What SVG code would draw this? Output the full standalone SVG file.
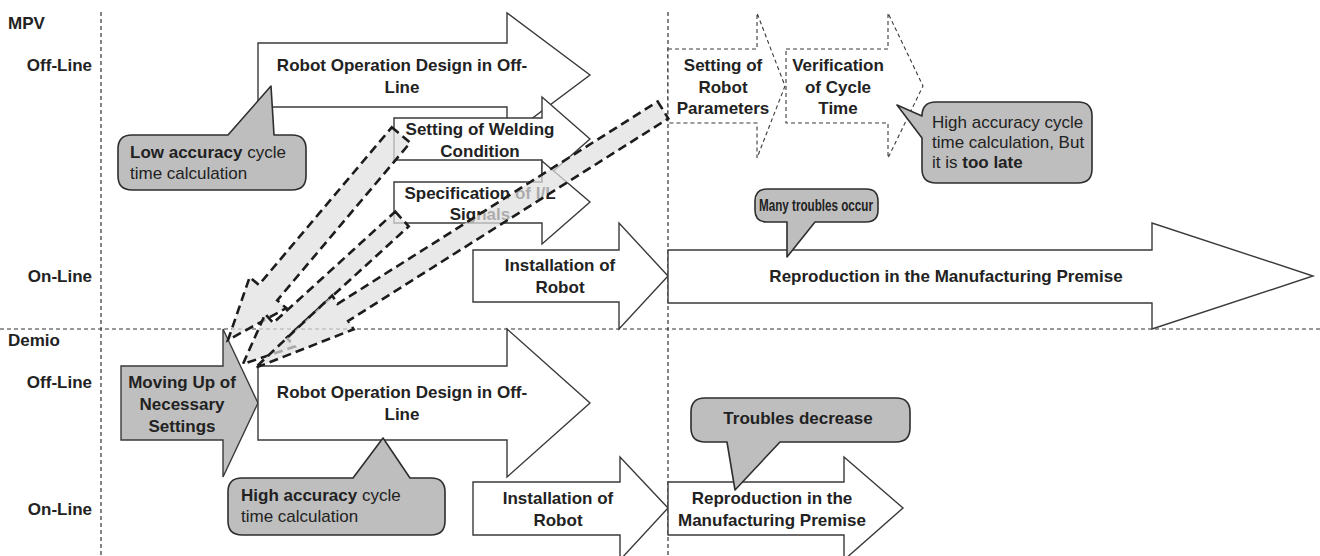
<svg xmlns="http://www.w3.org/2000/svg" width="1320" height="556" viewBox="0 0 1320 556">
  <style>
    .bg { fill: #ffffff; }
    .grid { stroke: #333; stroke-width: 1.2; stroke-dasharray: 4 3; fill: none; }
    .blk { fill: #ffffff; stroke: #3a3a3a; stroke-width: 1.4; stroke-linejoin: miter; }
    .blk-dash { fill: #ffffff; stroke: #3a3a3a; stroke-width: 1.1; stroke-dasharray: 4 3; }
    .blk-grey { fill: #bfbfbf; stroke: #3a3a3a; stroke-width: 1.4; }
    .callout { fill: #bebebe; stroke: #2e2e2e; stroke-width: 1.6; stroke-linejoin: round; }
    .move { fill: #e0e0e0; fill-opacity: 0.72; stroke: #1c1c1c; stroke-width: 2.6; stroke-dasharray: 9 5; stroke-linejoin: miter; }
    .lbl { font-family: "Liberation Sans", Arial, sans-serif; font-size: 17px; font-weight: bold; fill: #222; }
    .t { font-family: "Liberation Sans", Arial, sans-serif; font-size: 17px; font-weight: bold; fill: #222; text-anchor: middle; }
    .c { font-family: "Liberation Sans", Arial, sans-serif; font-size: 17px; fill: #222; }
    .b { font-weight: bold; }
  </style>

  <rect class="bg" x="0" y="0" width="1320" height="556"/>

  <!-- lane grid -->
  <g id="grid">
    <line class="grid" x1="101" y1="12" x2="101" y2="556"/>
    <line class="grid" x1="668" y1="12" x2="668" y2="556"/>
    <line class="grid" x1="0" y1="329" x2="1320" y2="329"/>
  </g>

  <!-- row labels -->
  <g id="labels">
    <text class="lbl" x="8" y="29">MPV</text>
    <text class="lbl" x="92" y="71" text-anchor="end">Off-Line</text>
    <text class="lbl" x="92" y="282" text-anchor="end">On-Line</text>
    <text class="lbl" x="8" y="346">Demio</text>
    <text class="lbl" x="92" y="388" text-anchor="end">Off-Line</text>
    <text class="lbl" x="92" y="515" text-anchor="end">On-Line</text>
  </g>

  <!-- MPV process -->
  <g id="mpv-robot-op">
    <path class="blk" d="M258,43 H507 V13 L590,75 L507,137 V107 H258 Z"/>
    <text class="t" x="402" y="71">Robot Operation Design in Off-</text>
    <text class="t" x="402" y="93">Line</text>
  </g>
  <g id="mpv-welding">
    <path class="blk" d="M394,118 H542 V97 L590,139 L542,181 V160 H394 Z"/>
    <text class="t" x="480" y="135">Setting of Welding</text>
    <text class="t" x="480" y="157">Condition</text>
  </g>
  <g id="mpv-io-signals">
    <path class="blk" d="M394,182 H542 V161 L590,202 L542,244 V223 H394 Z"/>
    <text class="t" x="480" y="199">Specification of I/L</text>
    <text class="t" x="480" y="220">Signals</text>
  </g>
  <g id="mpv-install">
    <path class="blk" d="M473,250 H619 V223 L668,276 L619,329 V302 H473 Z"/>
    <text class="t" x="560" y="271">Installation of</text>
    <text class="t" x="560" y="293">Robot</text>
  </g>
  <g id="mpv-reproduction">
    <path class="blk" d="M668,250 H1152 V223 L1313,276 L1152,329 V303 H668 Z"/>
    <text class="t" x="946" y="282">Reproduction in the Manufacturing Premise</text>
  </g>
  <g id="mpv-robot-params">
    <path class="blk-dash" d="M668,49 H757 V13 L785,86 L757,158 V123 H668 Z"/>
    <text class="t" x="723" y="71">Setting of</text>
    <text class="t" x="723" y="93">Robot</text>
    <text class="t" x="723" y="114">Parameters</text>
  </g>
  <g id="mpv-verification">
    <path class="blk-dash" d="M786,49 H888 V13 L923,86 L888,158 V123 H786 Z"/>
    <text class="t" x="838" y="71">Verification</text>
    <text class="t" x="838" y="93">of Cycle</text>
    <text class="t" x="838" y="114">Time</text>
  </g>

  <!-- Demio process -->
  <g id="demio-moving-up">
    <path class="blk-grey" d="M121,366 H223 V329 L258,403 L223,477 V440 H121 Z"/>
    <text class="t" x="182" y="388">Moving Up of</text>
    <text class="t" x="182" y="410">Necessary</text>
    <text class="t" x="182" y="432">Settings</text>
  </g>
  <g id="demio-robot-op">
    <path class="blk" d="M258,366 H507 V329 L590,403 L507,477 V440 H258 Z"/>
    <text class="t" x="402" y="398">Robot Operation Design in Off-</text>
    <text class="t" x="402" y="420">Line</text>
  </g>
  <g id="demio-install">
    <path class="blk" d="M473,482 H620 V457 L668,508 L620,560 V535 H473 Z"/>
    <text class="t" x="558" y="504">Installation of</text>
    <text class="t" x="558" y="526">Robot</text>
  </g>
  <g id="demio-reproduction">
    <path class="blk" d="M668,482 H844 V457 L903,508 L844,560 V535 H668 Z"/>
    <text class="t" x="772" y="504">Reproduction in the</text>
    <text class="t" x="772" y="526">Manufacturing Premise</text>
  </g>

  <!-- speech callouts -->
  <g id="note-low-accuracy">
    <path class="callout" d="M228,135 L271,86 L274,135 H292 Q306,135 306,149 V176 Q306,190 292,190 H132 Q118,190 118,176 V149 Q118,135 132,135 Z"/>
    <text class="c" x="130" y="158"><tspan class="b">Low accuracy</tspan> cycle</text>
    <text class="c" x="130" y="179">time calculation</text>
  </g>
  <g id="note-too-late">
    <path class="callout" d="M922,138 L897,105 L922,116 Q922,102 936,102 H1078 Q1092,102 1092,116 V169 Q1092,183 1078,183 H936 Q922,183 922,169 Z"/>
    <text class="c" x="932" y="128">High accuracy cycle</text>
    <text class="c" x="932" y="148">time calculation, But</text>
    <text class="c" x="932" y="168">it is <tspan class="b">too late</tspan></text>
  </g>
  <g id="note-many-troubles">
    <path class="callout" d="M787,222 L787,257 L815,222 H866 Q878,222 878,210 V201 Q878,189 866,189 H767 Q755,189 755,201 V210 Q755,222 767,222 Z"/>
    <text class="t" x="816" y="211" textLength="114" lengthAdjust="spacingAndGlyphs">Many troubles occur</text>
  </g>
  <g id="note-troubles-decrease">
    <path class="callout" d="M727,442 L735,490 L780,442 H896 Q910,442 910,428 V412 Q910,398 896,398 H705 Q691,398 691,412 V428 Q691,442 705,442 Z"/>
    <text class="t" x="798" y="424">Troubles decrease</text>
  </g>
  <g id="note-high-accuracy">
    <path class="callout" d="M353,478 L383,438 L410,478 H431 Q445,478 445,492 V521 Q445,535 431,535 H242 Q228,535 228,521 V492 Q228,478 242,478 Z"/>
    <text class="c" x="241" y="501"><tspan class="b">High accuracy</tspan> cycle</text>
    <text class="c" x="241" y="522">time calculation</text>
  </g>

  <!-- settings moved up into the Demio off-line stage -->
  <g id="connectors">
    <path class="move" d="M391.8,127.3 L410.2,142.7 L277.2,300.3 L286.3,308.1 L228,340 L249.7,277.1 L258.8,284.9 Z"/>
    <path class="move" d="M395.3,211.6 L408.7,226.4 L286.7,337.7 L294.8,346.6 L243,364 L265.2,314 L273.3,322.9 Z"/>
    <path class="move" d="M657.7,101.5 L668.3,118.5 L348.2,320.9 L353.6,329.3 L255,368 L332.2,295.5 L337.6,303.9 Z"/>
  </g>
</svg>
